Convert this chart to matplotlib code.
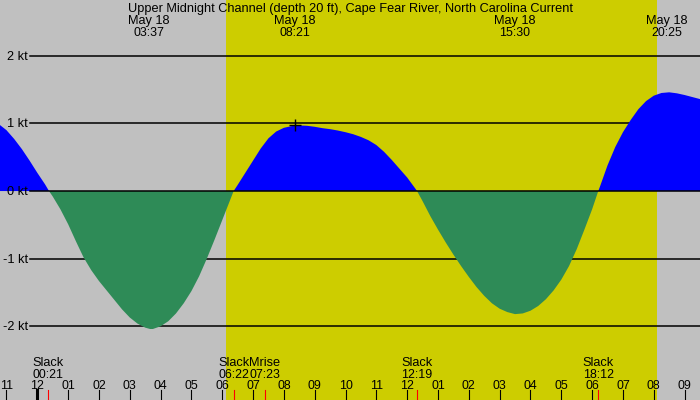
import numpy as np
import matplotlib
matplotlib.use('Agg')
import matplotlib.pyplot as plt

plt.rcParams['font.family'] = ['Liberation Sans', 'DejaVu Sans']

title = 'Upper Midnight Channel (depth 20 ft), Cape Fear River, North Carolina Current'

# current speed (kt) vs hours after midnight May 18
hours = [-1.25, -1.0, -0.75, -0.5, -0.25, 0.0, 0.25, 0.38,
         0.5, 0.75, 1.0, 1.25, 1.5, 1.75, 2.0, 2.25, 2.5, 2.75, 3.0, 3.25, 3.5, 3.66, 3.75,
         4.0, 4.25, 4.5, 4.75, 5.0, 5.25, 5.5, 5.75, 6.0, 6.25, 6.37,
         6.5, 6.75, 7.0, 7.25, 7.5, 7.75, 8.0, 8.25, 8.5, 8.75, 9.0, 9.25, 9.5, 9.75,
         10.0, 10.25, 10.5, 10.75, 11.0, 11.25, 11.5, 11.75, 12.0, 12.25, 12.32,
         12.5, 12.75, 13.0, 13.25, 13.5, 13.75, 14.0, 14.25, 14.5, 14.75, 15.0, 15.25,
         15.5, 15.75, 16.0, 16.25, 16.5, 16.75, 17.0, 17.25, 17.5, 17.75, 18.0, 18.2,
         18.25, 18.5, 18.75, 19.0, 19.25, 19.5, 19.75, 20.0, 20.25, 20.5, 20.75, 21.0, 21.25, 21.5]
speed = [0.99, 0.90, 0.77, 0.62, 0.45, 0.27, 0.10, 0.0,
         -0.08, -0.27, -0.49, -0.74, -0.98, -1.17, -1.33, -1.47, -1.61, -1.75, -1.87, -1.96, -2.02, -2.04, -2.04,
         -2.00, -1.925, -1.81, -1.66, -1.48, -1.26, -1.00, -0.72, -0.43, -0.14, 0.0,
         0.09, 0.27, 0.45, 0.63, 0.78, 0.88, 0.935, 0.96, 0.97, 0.965, 0.95, 0.93, 0.915, 0.895,
         0.87, 0.84, 0.80, 0.75, 0.68, 0.58, 0.46, 0.33, 0.20, 0.045, 0.0,
         -0.15, -0.37, -0.57, -0.76, -0.94, -1.11, -1.27, -1.42, -1.55, -1.66, -1.74, -1.79,
         -1.82, -1.81, -1.77, -1.70, -1.60, -1.47, -1.31, -1.11, -0.86, -0.57, -0.27, 0.0,
         0.06, 0.38, 0.65, 0.87, 1.05, 1.21, 1.33, 1.41, 1.45, 1.46, 1.445, 1.42, 1.39, 1.36]

# max / min current labels along the top
peak_times = ['03:37', '08:21', '15:30', '20:25']
peak_date = 'May 18'

# events along the bottom
event_names = ['Slack', 'Slack', 'Mrise', 'Slack', 'Slack']
event_times = ['00:21', '06:22', '07:23', '12:19', '18:12']

sunrise = '06:07'
sunset = '20:06'

kt_levels = [2, 1, 0, -1, -2]

FS = 9.2     # words
FS_NUM = 8.9  # times / hour numbers (digits run a little narrower in the original)


def to_h(s):
    hh, mm = s.split(':')
    return int(hh) + int(mm) / 60.0


t = np.array(hours)
v = np.array(speed)

fig = plt.figure(figsize=(7, 4), dpi=100)
fig.patch.set_facecolor('#c0c0c0')
ax = fig.add_axes([0, 0, 1, 1])
ax.set_axis_off()
ax.set_xlim(-1.21, 21.50)
ax.set_ylim(-3.09, 2.825)

# daylight
ax.axvspan(to_h(sunrise), to_h(sunset), color='#cdcd00', lw=0, zorder=0)

# kt grid lines + labels
for k in kt_levels:
    if k != 0:
        ax.axhline(k, xmin=30 / 700, xmax=1, color='black', lw=1.1, zorder=1)
    ax.text(28 / 700, k - 0.06, '%d kt' % k, transform=ax.get_yaxis_transform(),
            ha='right', va='baseline', fontsize=FS)

ax.fill_between(t, v, 0, where=v >= 0, interpolate=True, color='#0000ff', lw=0, zorder=2)
ax.fill_between(t, v, 0, where=v <= 0, interpolate=True, color='#2e8b57', lw=0, zorder=2)
ax.axhline(0, xmin=30 / 700, xmax=1, color='black', lw=1.1, zorder=3)

# peak marker
ax.plot(to_h(peak_times[1]), 0.98, marker='+', color='black', ms=9, mew=1, zorder=4)

# top labels
ax.text(0.5, 2.652, title, transform=ax.get_yaxis_transform(), ha='center', va='baseline', fontsize=FS)
for pt in peak_times:
    ax.text(to_h(pt), 2.47, peak_date, ha='center', va='baseline', fontsize=FS)
    ax.text(to_h(pt), 2.293, pt, ha='center', va='baseline', fontsize=FS_NUM)

# hour ticks along the bottom
for h in range(-1, 22):
    hod = h % 24
    lab = '%02d' % ((hod - 1) % 12 + 1)
    ax.text(h, -2.934, lab, ha='center', va='baseline', fontsize=FS_NUM)
    if hod == 0:
        ax.plot([h, h], [-2.944, -3.09], color='black', lw=2.2, zorder=4)
    else:
        ax.plot([h, h], [-2.944, -3.09], color='black', lw=0.8, zorder=4)

for name, et in zip(event_names, event_times):
    ax.text(to_h(et), -2.589, name, ha='center', va='baseline', fontsize=FS)
    ax.text(to_h(et), -2.762, et, ha='center', va='baseline', fontsize=FS_NUM)
    ax.plot([to_h(et), to_h(et)], [-2.944, -3.09], color='red', lw=0.8, zorder=4)

fig.savefig('out.png', dpi=100, facecolor=fig.get_facecolor())
